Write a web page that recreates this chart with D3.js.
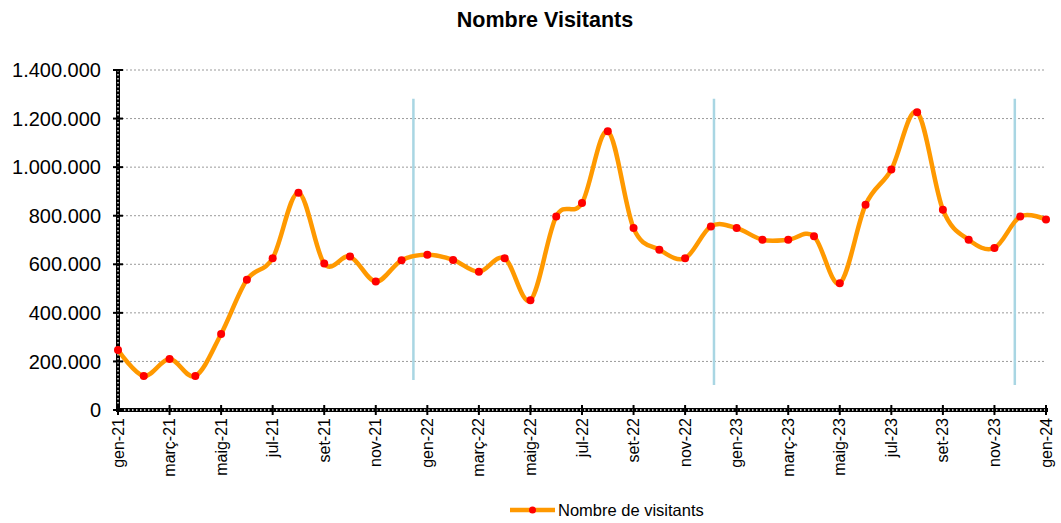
<!DOCTYPE html>
<html>
<head>
<meta charset="utf-8">
<script src="https://cdn.jsdelivr.net/npm/d3@7"></script>
<style>
  html, body { margin: 0; padding: 0; background: #fff; }
  svg { display: block; font-family: "Liberation Sans", Arial, sans-serif; }
</style>
</head>
<body>
<svg id="chart" width="1061" height="523"></svg>
<script>
const months = [
  "gen-21","febr-21","març-21","abr-21","maig-21","juny-21","jul-21","ag-21","set-21","oct-21","nov-21","des-21",
  "gen-22","febr-22","març-22","abr-22","maig-22","juny-22","jul-22","ag-22","set-22","oct-22","nov-22","des-22",
  "gen-23","febr-23","març-23","abr-23","maig-23","juny-23","jul-23","ag-23","set-23","oct-23","nov-23","des-23",
  "gen-24"
];
const visitors = [
  247000, 140000, 210000, 140000, 313000, 536000, 625000, 895000, 603000, 632000, 529000, 617000,
  639000, 618000, 569000, 625000, 452000, 797000, 852000, 1148000, 749000, 660000, 625000, 756000,
  749000, 701000, 701000, 715000, 522000, 845000, 990000, 1226000, 825000, 701000, 667000, 797000,
  784000
];
const yTicks = [0, 200000, 400000, 600000, 800000, 1000000, 1200000, 1400000];
// vertical separator lines (position in month index, value range)
const dividerPos = [11.46, 23.12, 34.79];
const dividerTop = [1282000, 1282000, 1282000];
const dividerBottom = [124000, 103000, 103000];

const svg = d3.select("#chart");
const x = d3.scaleLinear().domain([0, months.length - 1]).range([118, 1046]);
const y = d3.scaleLinear().domain([0, 1400000]).range([410, 70]);
const fmt = v => v === 0 ? "0" : d3.format(",")(v).replace(/,/g, ".");

// title
svg.append("text").attr("x", 545).attr("y", 27).attr("text-anchor", "middle")
  .attr("font-weight", "bold").attr("font-size", 21.5).attr("fill", "#000").text("Nombre Visitants");

// gridlines
svg.append("g").selectAll("line").data(yTicks.filter(d => d > 0)).join("line")
  .attr("x1", x(0)).attr("x2", x(months.length - 1))
  .attr("y1", d => y(d)).attr("y2", d => y(d))
  .attr("stroke", "#9a9a9a").attr("stroke-width", 1).attr("stroke-dasharray", "2,2");

// dividers
svg.append("g").selectAll("line").data(dividerPos).join("line")
  .attr("x1", d => x(d)).attr("x2", d => x(d))
  .attr("y1", (d, i) => y(dividerTop[i])).attr("y2", (d, i) => y(dividerBottom[i]))
  .attr("stroke", "#a9d6e3").attr("stroke-width", 2.5);

// axes (thick black with white dots)
function dottedLine(x1, y1, x2, y2) {
  svg.append("line").attr("x1", x1).attr("y1", y1).attr("x2", x2).attr("y2", y2)
    .attr("stroke", "#000").attr("stroke-width", 4);
  svg.append("line").attr("x1", x1).attr("y1", y1).attr("x2", x2).attr("y2", y2)
    .attr("stroke", "#fff").attr("stroke-width", 1.3).attr("stroke-dasharray", "1.5,2.5");
}
dottedLine(x(0), y(1400000), x(0), y(0));
dottedLine(x(0) - 2, y(0), x(months.length - 1) + 2, y(0));

// y ticks
const yAxisG = svg.append("g");
yTicks.forEach(t => {
  yAxisG.append("line").attr("x1", x(0) - 5).attr("x2", x(0) + 5)
    .attr("y1", y(t)).attr("y2", y(t)).attr("stroke", "#000").attr("stroke-width", 2);
  yAxisG.append("text").attr("x", 101).attr("y", y(t)).attr("dy", "0.36em")
    .attr("text-anchor", "end").attr("font-size", 20).attr("fill", "#000").text(fmt(t));
});

// x ticks and labels every 2 months
const xAxisG = svg.append("g");
months.forEach((m, i) => {
  if (i % 2 !== 0) return;
  xAxisG.append("line").attr("x1", x(i)).attr("x2", x(i))
    .attr("y1", y(0) - 5).attr("y2", y(0) + 5).attr("stroke", "#000").attr("stroke-width", 2);
  xAxisG.append("text")
    .attr("transform", `translate(${x(i)},418) rotate(-90)`)
    .attr("dy", "0.35em").attr("text-anchor", "end")
    .attr("font-size", 16).attr("fill", "#000").text(m);
});

// line
const line = d3.line().x((d, i) => x(i)).y(d => y(d)).curve(d3.curveCardinal.tension(0));
svg.append("path").datum(visitors).attr("d", line)
  .attr("fill", "none").attr("stroke", "#ff9900").attr("stroke-width", 4.5)
  .attr("stroke-linejoin", "round").attr("stroke-linecap", "round");

// markers
svg.append("g").selectAll("circle").data(visitors).join("circle")
  .attr("cx", (d, i) => x(i)).attr("cy", d => y(d)).attr("r", 4).attr("fill", "#ff0000");

// legend
const lg = svg.append("g");
lg.append("line").attr("x1", 510).attr("x2", 555).attr("y1", 510).attr("y2", 510)
  .attr("stroke", "#ff9900").attr("stroke-width", 4.5);
lg.append("circle").attr("cx", 532.5).attr("cy", 510).attr("r", 3.5).attr("fill", "#ff0000");
lg.append("text").attr("x", 558).attr("y", 510).attr("dy", "0.35em")
  .attr("font-size", 16.5).attr("fill", "#000").text("Nombre de visitants");
</script>
</body>
</html>
